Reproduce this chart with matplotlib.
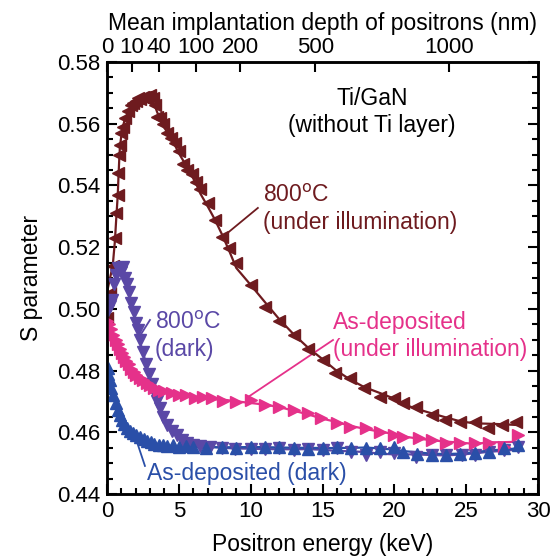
import matplotlib
matplotlib.use("Agg")
import matplotlib.pyplot as plt
import numpy as np
import pandas as pd
from matplotlib.ticker import MultipleLocator

plt.rcParams["font.family"] = ["Liberation Sans", "DejaVu Sans"]

# 800 C, under illumination
e_800_ill = [0.0, 0.2, 0.4, 0.55, 0.65, 0.75, 0.8, 0.85, 0.9, 1.0, 1.1, 1.25, 1.45, 1.65,
             1.8, 2.0, 2.15, 2.3, 2.5, 2.65, 2.8, 3.0, 3.2, 3.35, 3.5, 3.7, 3.9, 4.15, 4.45,
             4.75, 5.0, 5.3, 5.6, 5.9, 6.2, 6.5, 7.0, 7.5, 8.0, 8.5, 9.0, 10.0, 11.0, 12.0,
             13.0, 14.0, 15.0, 15.9, 16.9, 17.9, 19.0, 20.0, 20.6, 21.5, 22.6, 23.5, 24.6,
             25.6, 26.5, 27.5, 28.5]
s_800_ill = [0.4970, 0.5050, 0.5140, 0.5230, 0.5310, 0.5370, 0.5440, 0.5500, 0.5530, 0.5570,
             0.5590, 0.5620, 0.5640, 0.5660, 0.5667, 0.5675, 0.5683, 0.5680, 0.5685, 0.5687,
             0.5680, 0.5693, 0.5683, 0.5660, 0.5622, 0.5618, 0.5600, 0.5569, 0.5555, 0.5537,
             0.5510, 0.5470, 0.5450, 0.5437, 0.5410, 0.5390, 0.5342, 0.5288, 0.5234, 0.5196,
             0.5148, 0.5077, 0.5007, 0.4960, 0.4915, 0.4870, 0.4834, 0.4791, 0.4775, 0.4742,
             0.4715, 0.4710, 0.4694, 0.4683, 0.4656, 0.4640, 0.4634, 0.4634, 0.4613, 0.4624,
             0.4634]

# 800 C, dark
e_800_dark = [0.05, 0.2, 0.35, 0.5, 0.65, 0.8, 0.95, 1.1, 1.25, 1.4, 1.55, 1.7, 1.85, 2.0,
              2.15, 2.3, 2.5, 2.7, 2.9, 3.1, 3.3, 3.5, 3.7, 3.9, 4.2, 4.5, 4.85, 5.2, 5.6,
              6.0, 6.5, 7.2, 8.0, 8.9, 10.0, 11.0, 12.0, 13.0, 14.0, 15.0, 16.0, 17.0, 18.0,
              19.0, 20.0, 21.5, 22.6, 23.6, 24.7, 25.6, 26.6, 27.6, 28.6]
s_800_dark = [0.4996, 0.5010, 0.5030, 0.5080, 0.5110, 0.5131, 0.5120, 0.5135, 0.5100, 0.5080,
              0.5055, 0.5020, 0.4990, 0.4955, 0.4930, 0.4900, 0.4860, 0.4820, 0.4790, 0.4755,
              0.4730, 0.4700, 0.4680, 0.4650, 0.4625, 0.4605, 0.4590, 0.4575, 0.4565, 0.4560,
              0.4556, 0.4552, 0.4550, 0.4546, 0.4545, 0.4545, 0.4548, 0.4543, 0.4545, 0.4543,
              0.4548, 0.4537, 0.4526, 0.4537, 0.4532, 0.4521, 0.4526, 0.4526, 0.4526, 0.4526,
              0.4537, 0.4543, 0.4553]

# As-deposited, under illumination
e_asd_ill = [0.0, 0.15, 0.3, 0.45, 0.6, 0.75, 0.9, 1.05, 1.2, 1.35, 1.5, 1.7, 1.85, 2.05,
             2.3, 2.5, 2.75, 3.0, 3.3, 3.6, 4.0, 4.5, 5.0, 5.5, 6.1, 6.7, 7.3, 8.1, 9.0, 10.0,
             11.0, 12.0, 13.0, 14.0, 14.9, 16.0, 16.9, 18.0, 19.0, 20.0, 20.6, 21.7, 22.6,
             23.6, 24.6, 25.6, 26.6, 27.6, 28.6]
s_asd_ill = [0.4960, 0.4950, 0.4935, 0.4915, 0.4900, 0.4885, 0.4870, 0.4856, 0.4845, 0.4830,
             0.4820, 0.4805, 0.4795, 0.4785, 0.4775, 0.4768, 0.4760, 0.4753, 0.4745, 0.4738,
             0.4733, 0.4728, 0.4722, 0.4720, 0.4712, 0.4715, 0.4710, 0.4700, 0.4699, 0.4705,
             0.4688, 0.4683, 0.4672, 0.4661, 0.4645, 0.4629, 0.4618, 0.4613, 0.4602, 0.4591,
             0.4586, 0.4580, 0.4575, 0.4564, 0.4566, 0.4564, 0.4564, 0.4553, 0.4591]

# As-deposited, dark
e_asd_dark = [0.05, 0.1, 0.2, 0.3, 0.45, 0.6, 0.75, 0.9, 1.05, 1.2, 1.4, 1.6, 1.8, 2.05, 2.3,
              2.55, 2.8, 3.05, 3.3, 3.6, 3.9, 4.2, 4.6, 5.0, 5.5, 6.0, 6.9, 8.0, 9.0, 10.0,
              11.0, 12.0, 13.0, 14.0, 15.0, 16.0, 17.0, 18.0, 19.0, 20.0, 20.6, 21.6, 22.6,
              23.6, 24.6, 25.6, 26.6, 27.6, 28.6]
s_asd_dark = [0.4807, 0.4790, 0.4770, 0.4745, 0.4720, 0.4695, 0.4672, 0.4655, 0.4640, 0.4628,
              0.4615, 0.4605, 0.4597, 0.4590, 0.4584, 0.4578, 0.4573, 0.4567, 0.4563, 0.4560,
              0.4558, 0.4555, 0.4558, 0.4553, 0.4555, 0.4553, 0.4550, 0.4552, 0.4550, 0.4553,
              0.4553, 0.4553, 0.4550, 0.4545, 0.4548, 0.4552, 0.4550, 0.4550, 0.4548, 0.4553,
              0.4537, 0.4530, 0.4528, 0.4528, 0.4530, 0.4532, 0.4537, 0.4548, 0.4559]

# top axis: mean implantation depth (nm) and the energies (keV) where the ticks sit
depth_labels = ["0", "10", "40", "100", "200", "500", "1000"]
depth_energy = [0.0, 1.71, 3.6, 6.2, 9.26, 14.5, 23.8]

series = [
    (e_800_ill, s_800_ill, "#6e1b1f", "<"),
    (e_800_dark, s_800_dark, "#5a48a6", "v"),
    (e_asd_ill, s_asd_ill, "#e5318a", ">"),
    (e_asd_dark, s_asd_dark, "#2a4fa8", "^"),
]

FS = 16.5

fig = plt.figure(figsize=(5.55, 5.56), dpi=100)
ax = fig.add_axes([0.1928, 0.1115, 0.7766, 0.777])

for e, s, color, marker in series:
    # smooth guide line through the points
    fit = pd.Series(s).rolling(5, center=True, min_periods=1).mean()
    ax.plot(e, fit, color=color, lw=1.6, zorder=2)
    ax.plot(e, s, ls="none", marker=marker, ms=8.5, color=color, mec=color, zorder=3)

ax.set_xlim(0, 30)
ax.set_ylim(0.44, 0.58)
ax.xaxis.set_major_locator(MultipleLocator(5))
ax.xaxis.set_minor_locator(MultipleLocator(1))
ax.yaxis.set_major_locator(MultipleLocator(0.02))
ax.yaxis.set_minor_locator(MultipleLocator(0.005))
ax.yaxis.set_major_formatter(matplotlib.ticker.FormatStrFormatter("%.2f"))
ax.tick_params(which="both", direction="in", top=False, right=True, labelsize=16, width=1.5)
ax.tick_params(which="major", length=7, pad=5)
ax.tick_params(which="minor", length=4)
for sp in ax.spines.values():
    sp.set_linewidth(1.8)

ax.set_xlabel("Positron energy (keV)", fontsize=FS, labelpad=8)
ax.set_ylabel("S parameter", fontsize=FS, labelpad=10)

top = ax.twiny()
top.set_xlim(ax.get_xlim())
top.set_xticks(depth_energy)
top.set_xticklabels(depth_labels)
top.tick_params(direction="in", length=7, width=1.5, labelsize=16, pad=3)
top.set_xlabel("Mean implantation depth of positrons (nm)", fontsize=FS, labelpad=5)
for sp in top.spines.values():
    sp.set_linewidth(1.8)

# annotations
ax.text(18.44, 0.5638, "Ti/GaN\n(without Ti layer)", ha="center", va="center",
        fontsize=FS, linespacing=1.2)

ax.text(10.86, 0.5324, "800$^{\\rm o}$C\n(under illumination)", color="#6e1b1f",
        ha="left", va="center", fontsize=FS, linespacing=1.2)
ax.plot([10.5, 8.21], [0.5327, 0.5239], color="#6e1b1f", lw=1.3)

ax.text(3.34, 0.4912, "800$^{\\rm o}$C\n(dark)", color="#5a48a6",
        ha="left", va="center", fontsize=FS, linespacing=1.2)
ax.plot([2.99, 2.37], [0.4964, 0.4918], color="#5a48a6", lw=1.3)

ax.text(15.73, 0.4912, "As-deposited\n(under illumination)", color="#e5318a",
        ha="left", va="center", fontsize=FS, linespacing=1.2)
ax.plot([15.73, 9.81], [0.4899, 0.4714], color="#e5318a", lw=1.3)

ax.text(2.78, 0.4468, "As-deposited (dark)", color="#2a4fa8",
        ha="left", va="center", fontsize=FS)
ax.plot([2.64, 2.09], [0.4491, 0.4568], color="#2a4fa8", lw=1.3)

fig.savefig("out.png", dpi=100)
